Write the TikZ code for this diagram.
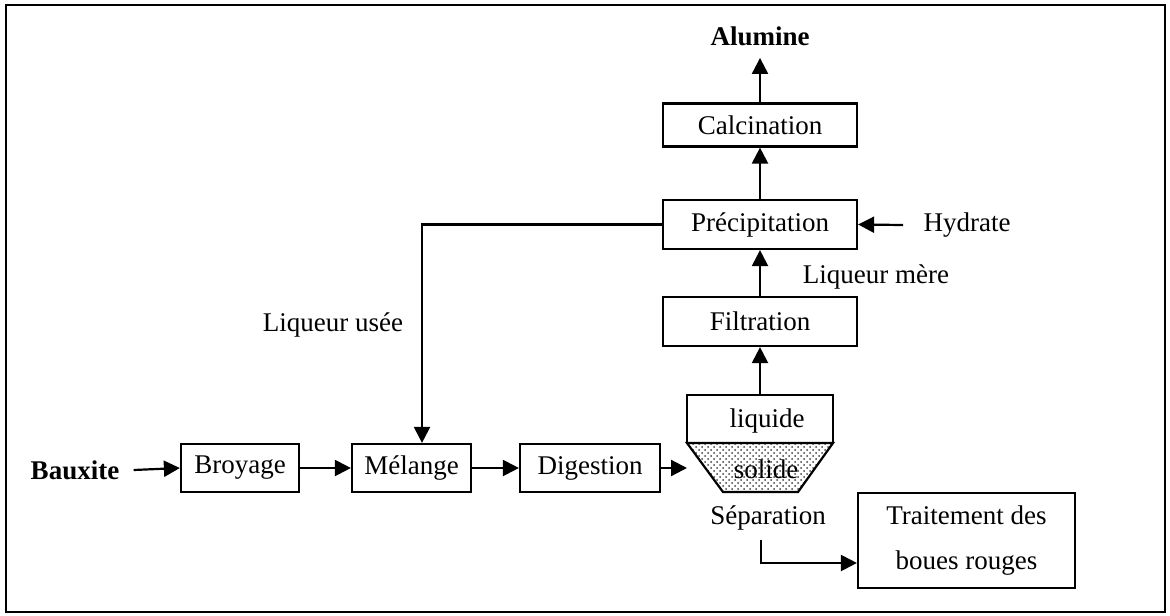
\documentclass[tikz,border=0pt]{standalone}
\usepackage{fontspec}
\setmainfont{Liberation Serif}
\usetikzlibrary{arrows.meta,patterns}
\tikzset{
    procbox/.style = {draw, line width=1.1pt, rectangle, inner sep=0pt, font=\fontsize{13.5}{16}\selectfont},
    arr/.style = {-{Triangle[length=8pt,width=8pt]}, line width=1.1pt},
    lbl/.style = {inner sep=0pt, font=\fontsize{13.5}{16}\selectfont},
}

\begin{document}
\begin{tikzpicture}[x=0.5pt, y=-0.5pt]
\useasboundingbox (0,0) rectangle (1170,615);
\draw[line width=1.1pt] (6,5) rectangle (1165,612);

% colonne de droite
\node[lbl, font=\fontsize{13.5}{16}\selectfont\bfseries, inner ysep=6pt] (alum) at (760,36) {Alumine};
\node[procbox, minimum width=97pt, minimum height=21.5pt] (calc) at (760,125) {Calcination};
\node[procbox, minimum width=97pt, minimum height=24.5pt] (precip) at (760,224.5) {Précipitation};
\node[procbox, minimum width=97pt, minimum height=24.5pt] (filt) at (760,321.5) {Filtration};
\node[lbl, inner xsep=10pt] (hyd) at (967,225) {Hydrate};
\node[lbl] (lmere) at (876,277) {Liqueur mère};

% ligne du bas
\node[lbl, font=\fontsize{13.5}{16}\selectfont\bfseries, inner xsep=7pt] (baux) at (75,470) {Bauxite};
\node[procbox, minimum width=59pt, minimum height=24pt] (broy) at (240,468) {Broyage};
\node[procbox, minimum width=59.5pt, minimum height=24pt] (mel) at (411.5,468) {Mélange};
\node[procbox, minimum width=70pt, minimum height=24pt] (dig) at (590,468) {Digestion};
\node[lbl] (lusee) at (333,325) {Liqueur usée};

% decanteur
\filldraw[line width=1.1pt, pattern=crosshatch dots, pattern color=black!75]
    (687,443) -- (833,443) -- (798,492) -- (723,492) -- cycle;
\draw[line width=1.1pt] (687,443) rectangle (833,395);
\node[lbl] (liq) at (767,421) {liquide};
\node[lbl] (sol) at (766,469) {solide};
\node[lbl] (sep) at (768,518) {Séparation};
\coordinate (settop) at (760,395);
\coordinate (setleft) at (687,468);
\coordinate (sepout) at (761,540);

\node[procbox, minimum width=108.5pt, minimum height=47.5pt, align=center,
      font=\fontsize{13.5}{22.5}\selectfont] (trait) at (966.5,540.5) {Traitement des\\boues rouges};

% fleches
\draw[arr] (calc.north) -- (alum.south);
\draw[arr] (precip.north) -- (calc.south);
\draw[arr] (filt.north) -- (precip.south);
\draw[arr] (settop) -- (filt.south);
\draw[arr] (hyd.west) -- (precip.east);
\draw[arr] (precip.west) -| ([xshift=5.25pt]mel.north);
\draw[arr] (baux.east) -- (broy.west);
\draw[arr] (broy.east) -- (mel.west);
\draw[arr] (mel.east) -- (dig.west);
\draw[arr] (dig.east) -- (setleft);
\draw[arr] (sepout) |- ([yshift=-11.25pt]trait.west);
\end{tikzpicture}
\end{document}
